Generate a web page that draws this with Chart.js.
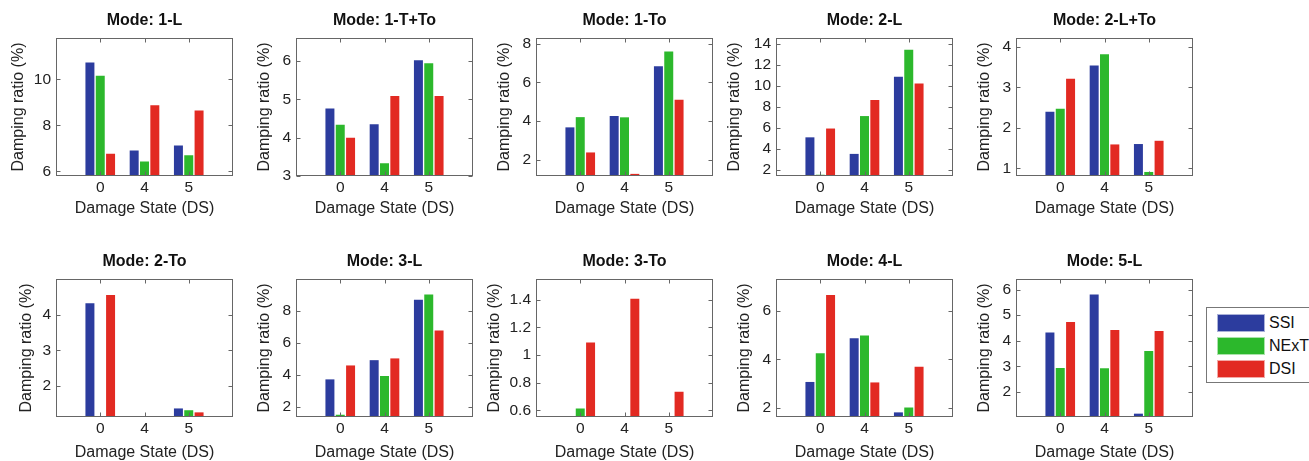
<!DOCTYPE html>
<html>
<head>
<meta charset="utf-8">
<script src="https://cdn.jsdelivr.net/npm/chart.js@4.4.1/dist/chart.umd.min.js"></script>
<style>
html,body{margin:0;padding:0;background:#fff;width:1309px;height:461px;overflow:hidden;position:relative;font-family:"Liberation Sans",Arial,sans-serif}
canvas.p{position:absolute}
#legend{position:absolute;left:1206px;top:307px;width:130px;height:76px;border:1px solid #777;box-sizing:border-box;background:#fff}
#legend .it{position:absolute;left:10px;height:18px;display:flex;align-items:center}
#legend .sw{width:48px;height:18px;box-sizing:border-box;border:1px solid rgba(255,255,255,0.6)}
#legend .tx{margin-left:4px;font-size:16px;color:#111;line-height:18px}
</style>
</head>
<body>
<div id="legend"></div>
<script>
// ---------------- data ----------------
const seriesNames = ['SSI', 'NExT', 'DSI'];
const categories = ['0', '4', '5'];               // damage states
const modeTitles = ['Mode: 1-L', 'Mode: 1-T+To', 'Mode: 1-To', 'Mode: 2-L', 'Mode: 2-L+To',
                    'Mode: 2-To', 'Mode: 3-L', 'Mode: 3-To', 'Mode: 4-L', 'Mode: 5-L'];

// damping ratio (%) per mode, at DS 0, 4, 5
const ssiValues = [
  [10.73, 6.91, 7.13],
  [4.76, 4.35, 6.02],
  [3.67, 4.26, 6.84],
  [5.07, 3.49, 10.84],
  [2.40, 3.54, 1.60],
  [4.32, null, 1.37],
  [3.73, 4.93, 8.70],
  [null, null, null],
  [3.07, 4.87, 1.82],
  [4.32, 5.81, 1.16]
];
const nextValues = [
  [10.16, 6.43, 6.70],
  [4.34, 3.33, 5.94],
  [4.20, 4.19, 7.60],
  [1.50, 7.10, 13.43],
  [2.47, 3.82, 0.91],
  [null, null, 1.32],
  [1.52, 3.94, 9.03],
  [0.614, null, null],
  [4.25, 4.98, 2.02],
  [2.94, 2.93, 3.60]
];
const dsiValues = [
  [6.77, 8.88, 8.65],
  [4.00, 5.09, 5.09],
  [2.37, 1.26, 5.10],
  [5.91, 8.64, 10.20],
  [3.21, 1.59, 1.68],
  [4.55, null, 1.26],
  [4.60, 5.04, 6.78],
  [1.09, 1.407, 0.735],
  [6.64, 3.05, 3.69],
  [4.73, 4.42, 4.38]
];
// y-axis tick labels and ranges per mode
const yTicks = [
  [6, 8, 10],
  [3, 4, 5, 6],
  [2, 4, 6, 8],
  [2, 4, 6, 8, 10, 12, 14],
  [1, 2, 3, 4],
  [2, 3, 4],
  [2, 4, 6, 8],
  [0.6, 0.8, 1, 1.2, 1.4],
  [2, 4, 6],
  [2, 3, 4, 5, 6]
];
const yMin = [5.8, 3, 1.15, 1.38, 0.81, 1.13, 1.38, 0.552, 1.63, 1.03];
const yMax = [11.8, 6.6, 8.3, 14.55, 4.22, 5.0, 10.0, 1.55, 7.3, 6.41];
const xMax = [4, 4, 4, 4, 4, 4, 4, 4, 4, 4];

// ---------------- styling / layout ----------------
const seriesColors = ['#2c3c9e', '#2cb82c', '#e22a22'];
const FONT = '"Liberation Sans", Arial, Helvetica, sans-serif';
Chart.defaults.font.family = FONT;
const boxLefts = [56, 296, 536, 776, 1016];
const boxTops = [38, 279];
const UNIT_PX = 44.25, BOX_H = 138;
const W_Y = 60, TOP = 38, BOT = 50, RPAD = 6;
const yTitleOffset = [37, 31, 31, 41, 31, 29, 31, 41, 31, 31];

const boxPlugin = {
  id: 'matlabBox',
  afterDraw(chart) {
    const {ctx, chartArea: {left, top, right, bottom}, scales: {x, y}} = chart;
    ctx.save();
    ctx.strokeStyle = '#666';
    ctx.lineWidth = 1;
    const L = Math.round(left) + 0.5, R = Math.round(right) - 0.5;
    const T = Math.round(top) + 0.5, B = Math.round(bottom) - 0.5;
    ctx.strokeRect(L, T, R - L, B - T);
    ctx.beginPath();
    y.ticks.forEach(t => {
      const py = Math.round(y.getPixelForValue(t.value)) + 0.5;
      ctx.moveTo(L, py); ctx.lineTo(L + 4, py);
      ctx.moveTo(R, py); ctx.lineTo(R - 4, py);
    });
    x.ticks.forEach(t => {
      const px = Math.round(x.getPixelForValue(t.value)) + 0.5;
      ctx.moveTo(px, B); ctx.lineTo(px, B - 4);
      ctx.moveTo(px, T); ctx.lineTo(px, T + 4);
    });
    ctx.stroke();
    ctx.restore();
  }
};

const allValues = [ssiValues, nextValues, dsiValues];

function makePanel(i) {
  const col = i % 5, row = Math.floor(i / 5);
  const boxW = Math.round(xMax[i] * UNIT_PX);
  const cv = document.createElement('canvas');
  cv.className = 'p';
  const cw = W_Y + boxW + RPAD, ch = TOP + BOX_H + BOT;
  cv.width = cw; cv.height = ch;
  cv.style.width = cw + 'px'; cv.style.height = ch + 'px';
  cv.style.left = (boxLefts[col] - W_Y) + 'px';
  cv.style.top = (boxTops[row] - TOP) + 'px';
  document.body.appendChild(cv);

  new Chart(cv, {
    type: 'bar',
    data: {
      datasets: seriesNames.map((name, s) => ({
        label: name,
        data: categories.map((c, k) => ({x: k + 1, y: allValues[s][i][k]})),
        backgroundColor: seriesColors[s],
        borderWidth: 0,
        categoryPercentage: 0.70,
        barPercentage: 0.87
      }))
    },
    options: {
      responsive: false,
      animation: false,
      events: [],
      devicePixelRatio: 1,
      layout: {padding: {left: 0, right: RPAD, top: 0, bottom: 0}},
      plugins: {
        legend: {display: false},
        tooltip: {enabled: false},
        title: {
          display: true, text: modeTitles[i], fullSize: false,
          font: {size: 16, weight: 'bold', lineHeight: 1.2}, color: '#111',
          padding: {top: 11.4, bottom: 7.4}
        }
      },
      scales: {
        x: {
          type: 'linear', min: 0, max: xMax[i], offset: false, bounds: 'data',
          grid: {display: false, drawTicks: false, tickLength: 0},
          border: {display: false},
          afterBuildTicks: s => { s.ticks = categories.map((c, k) => ({value: k + 1})); },
          ticks: {
            callback: v => categories[Math.round(v) - 1],
            padding: 2.5, font: {size: 15.5, lineHeight: 1.2}, color: '#222',
            autoSkip: false, maxRotation: 0
          },
          title: {
            display: true, text: 'Damage State (DS)', font: {size: 16, lineHeight: 1.2}, color: '#222',
            padding: {top: 0, bottom: row ? 4.4 : 7.4}
          },
          afterFit: s => { s.height = BOT; }
        },
        y: {
          type: 'linear', min: yMin[i], max: yMax[i], beginAtZero: false, bounds: 'data',
          grid: {display: false, drawTicks: false, tickLength: 0},
          border: {display: false},
          afterBuildTicks: s => { s.ticks = yTicks[i].map(v => ({value: v})); },
          ticks: {
            callback: v => String(v),
            padding: 5, font: {size: 15.5, lineHeight: 1.2}, color: '#222', autoSkip: false
          },
          title: {
            display: true, text: 'Damping ratio (%)', font: {size: 16, lineHeight: 1.2}, color: '#222',
            padding: {top: W_Y - yTitleOffset[i] - 9.6, bottom: 0}
          },
          afterFit: s => { s.width = W_Y; }
        }
      }
    },
    plugins: [boxPlugin]
  });
}

for (let i = 0; i < modeTitles.length; i++) makePanel(i);

// legend
const legend = document.getElementById('legend');
const legendTops = [6, 29, 52];
seriesNames.forEach((name, s) => {
  const it = document.createElement('div');
  it.className = 'it';
  it.style.top = legendTops[s] + 'px';
  const sw = document.createElement('div');
  sw.className = 'sw';
  sw.style.background = seriesColors[s];
  const tx = document.createElement('span');
  tx.className = 'tx';
  tx.textContent = name;
  it.appendChild(sw); it.appendChild(tx);
  legend.appendChild(it);
});
</script>
</body>
</html>
